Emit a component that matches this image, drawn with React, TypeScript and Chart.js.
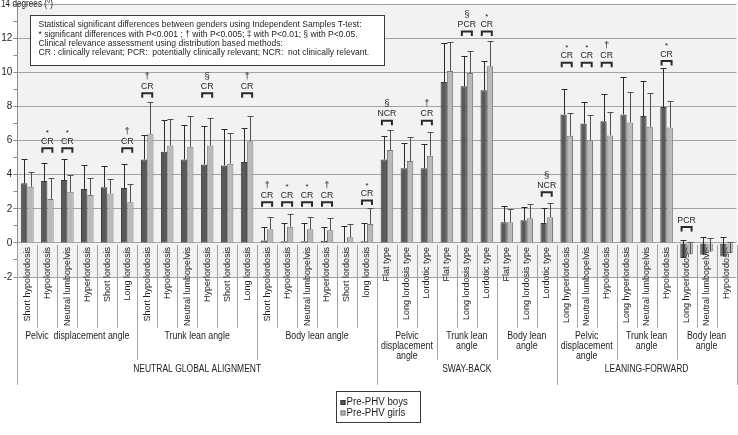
import React, { useEffect, useRef } from 'react';
import { Chart, registerables } from 'chart.js';

Chart.register(...registerables);

const FONT = '"Liberation Sans", Arial, Helvetica, sans-serif';

const categories = [
  'Short hypolordosis', 'Hypolordosis', 'Neutral lumbopelvis', 'Hyperlordosis', 'Short lordosis', 'Long lordosis',
  'Short hypolordosis', 'Hypolordosis', 'Neutral lumbopelvis', 'Hyperlordosis', 'Short lordosis', 'Long lordosis',
  'Short hypolordosis', 'Hypolordosis', 'Neutral lumbopelvis', 'Hyperlordosis', 'Short lordosis', 'long lordosis',
  'Flat type', 'Long lordosis type', 'Lordotic type',
  'Flat type', 'Long lordosis type', 'Lordotic type',
  'Flat type', 'Long lordosis type', 'Lordotic type',
  'Long hyperlordosis', 'Neutral lumbopelvis', 'Hypolordosis',
  'Long hyperlordosis', 'Neutral lumbopelvis', 'Hypolordosis',
  'Long hyperlordosis', 'Neutral lumbopelvis', 'Hypolordosis',
];

const boysMean = [
  3.49, 3.63, 3.68, 3.16, 3.26, 3.22,
  4.89, 5.34, 4.89, 4.6, 4.54, 4.74,
  0.14, 0.1, 0.1, 0.12, 0.02, 0.1,
  4.89, 4.37, 4.37,
  9.43, 9.18, 8.95,
  1.21, 1.33, 1.17,
  7.53, 7.0, 7.13,
  7.53, 7.43, 7.97,
  -0.88, -0.7, -0.8,
];
const boysSD = [
  1.4, 1.07, 1.25, 1.38, 1.22, 1.42,
  1.44, 1.87, 1.99, 2.24, 2.15, 2.0,
  0.81, 1.05, 1.09, 0.83, 0.99, 1.09,
  1.39, 1.46, 1.4,
  2.31, 1.79, 1.71,
  0.97, 0.79, 0.9,
  1.46, 1.27, 1.6,
  2.2, 2.08, 2.3,
  1.06, 1.03, 1.17,
];
const girlsMean = [
  3.29, 2.57, 3.0, 2.81, 2.9, 2.38,
  6.37, 5.71, 5.63, 5.71, 4.64, 5.96,
  0.8, 0.95, 0.8, 0.74, 0.33, 1.11,
  5.44, 4.8, 5.11,
  10.08, 9.96, 10.35,
  1.21, 1.44, 1.5,
  6.28, 6.0, 6.3,
  7.06, 6.8, 6.76,
  -0.66, -0.5, -0.6,
];
const girlsSD = [
  0.88, 1.21, 0.98, 0.99, 0.82, 1.09,
  1.86, 1.56, 1.82, 1.6, 1.79, 1.49,
  0.74, 0.73, 0.74, 0.7, 0.76, 0.92,
  1.17, 1.38, 1.38,
  1.69, 1.29, 1.48,
  0.78, 0.84, 0.82,
  1.34, 1.47, 1.38,
  1.79, 1.97, 1.58,
  0.74, 0.81, 0.68,
];

const seriesLabels = ['Pre-PHV boys', 'Pre-PHV girls'];

const subGroupLabels = [
  ['Pelvic  displacement angle'], ['Trunk lean angle'], ['Body lean angle'],
  ['Pelvic', 'displacement', 'angle'], ['Trunk lean', 'angle'], ['Body lean', 'angle'],
  ['Pelvic', 'displacement', 'angle'], ['Trunk lean', 'angle'], ['Body lean', 'angle'],
];
const subGroupCounts = [6, 6, 6, 3, 3, 3, 3, 3, 3];
const topGroupLabels = ['NEUTRAL GLOBAL ALIGNMENT', 'SWAY-BACK', 'LEANING-FORWARD'];
const topGroupCounts = [18, 9, 9];

// significance annotations (category index, symbol, relevance, bracket level in degrees)
const markCats = [1, 2, 5, 6, 9, 11, 12, 13, 14, 15, 17, 18, 20, 22, 23, 26, 27, 28, 29, 32, 33];
const markSymbols = ['*', '*', '†', '†', '§', '†', '†', '*', '*', '†', '*', '§', '†', '§', '*', '§', '*', '*', '†', '*', ''];
const markLabels = ['CR', 'CR', 'CR', 'CR', 'CR', 'CR', 'CR', 'CR', 'CR', 'CR', 'CR', 'NCR', 'CR', 'PCR', 'CR', 'NCR', 'CR', 'CR', 'CR', 'CR', 'PCR'];
const markLevels = [5.28, 5.28, 5.28, 8.5, 8.5, 8.5, 2.12, 2.12, 2.12, 2.12, 2.22, 6.9, 6.9, 12.12, 12.12, 2.71, 10.3, 10.3, 10.3, 10.4, 0.66];

const noteLines = [
  'Statistical significant differences between genders using Independent Samples T-test:',
  '* significant differences with P<0.001 ; † with P<0.005; ‡ with P<0.01; § with P<0.05.',
  'Clinical relevance assessment using distribution based methods:',
  'CR : clinically relevant; PCR:  potentially clinically relevant; NCR:  not clinically relevant.',
];

const yAxisTitle = '14 degrees (°)';

const BOYS_FILL = '#595959';
const BOYS_EDGE = '#3a3a3a';
const GIRLS_FILL = '#b9b9b9';
const GIRLS_EDGE = '#7a7a7a';
const TEXT = '#1e1e1e';
const LINE = '#a3a3a3';

function txt(ctx: CanvasRenderingContext2D, s: string, x: number, y: number, size: number, align: CanvasTextAlign = 'left', squeeze = 1) {
  ctx.font = `${size}px ${FONT}`;
  ctx.textAlign = align;
  ctx.textBaseline = 'middle';
  const w = ctx.measureText(s).width;
  ctx.fillText(s, x, y, Math.max(1, w * squeeze));
}

const backgroundPlugin = {
  id: 'bgPlot',
  beforeDraw(chart: any) {
    const { ctx, chartArea } = chart;
    ctx.save();
    ctx.fillStyle = '#ffffff';
    ctx.fillRect(0, 0, chart.width, chart.height);
    ctx.fillStyle = '#f2f2f2';
    ctx.fillRect(chartArea.left, chartArea.top, chartArea.right - chartArea.left, chartArea.bottom - chartArea.top);
    ctx.restore();
  },
};

const errorBarPlugin = {
  id: 'errorBars',
  afterDatasetsDraw(chart: any) {
    const { ctx } = chart;
    const y = chart.scales.y;
    const sds = [boysSD, girlsSD];
    const cols = ['#2a2a2a', '#505050'];
    chart.data.datasets.forEach((ds: any, di: number) => {
      const meta = chart.getDatasetMeta(di);
      ctx.save();
      ctx.strokeStyle = cols[di];
      ctx.lineWidth = 1;
      meta.data.forEach((bar: any, i: number) => {
        const v = ds.data[i];
        const x = Math.round(bar.x) + 0.5;
        const y0 = y.getPixelForValue(v);
        const y1 = Math.round(y.getPixelForValue(v + sds[di][i])) + 0.5;
        ctx.beginPath();
        ctx.moveTo(x, y0);
        ctx.lineTo(x, y1);
        ctx.moveTo(x - 3, y1);
        ctx.lineTo(x + 3, y1);
        ctx.stroke();
      });
      ctx.restore();
    });
  },
};

const decorPlugin = {
  id: 'decor',
  afterDraw(chart: any) {
    const { ctx } = chart;
    const xs = chart.scales.x;
    const ys = chart.scales.y;
    const z = ys.getPixelForValue(0);
    const step = xs.getPixelForValue(1) - xs.getPixelForValue(0);
    const edge = (i: number) => xs.getPixelForValue(0) - step / 2 + i * step;

    ctx.save();
    ctx.fillStyle = TEXT;

    // significance annotations
    markCats.forEach((c, k) => {
      const xc = xs.getPixelForValue(c);
      const b = ys.getPixelForValue(markLevels[k]);
      ctx.strokeStyle = '#2a2a2a';
      ctx.lineWidth = 2;
      ctx.beginPath();
      ctx.moveTo(xc - 5, b);
      ctx.lineTo(xc - 5, b - 4.5);
      ctx.lineTo(xc + 5, b - 4.5);
      ctx.lineTo(xc + 5, b);
      ctx.stroke();
      txt(ctx, markLabels[k], xc, b - 11.5, 9.5, 'center', 0.92);
      if (markSymbols[k]) {
        const s = markSymbols[k];
        txt(ctx, s, xc, b - (s === '*' ? 19.5 : 21.5), s === '*' ? 8 : 9.5, 'center');
      }
    });

    // category separators & group lines
    ctx.strokeStyle = LINE;
    ctx.lineWidth = 1;
    const subEdges = new Set<number>();
    const topEdges = new Set<number>();
    let acc = 0;
    subEdges.add(0);
    subGroupCounts.forEach((n) => { acc += n; subEdges.add(acc); });
    acc = 0;
    topEdges.add(0);
    topGroupCounts.forEach((n) => { acc += n; topEdges.add(acc); });
    for (let i = 0; i <= categories.length; i++) {
      const x = Math.round(edge(i)) + 0.5;
      const len = topEdges.has(i) ? 142 : subEdges.has(i) ? 117 : 85;
      ctx.beginPath();
      ctx.moveTo(x, z + 2);
      ctx.lineTo(x, z + len);
      ctx.stroke();
    }

    // sub group labels
    let start = 0;
    subGroupLabels.forEach((lines, g) => {
      const n = subGroupCounts[g];
      const xc = (edge(start) + edge(start + n)) / 2;
      lines.forEach((l, li) => txt(ctx, l, xc, z + 93.5 + li * 10, 10, 'center', 0.88));
      start += n;
    });
    start = 0;
    topGroupLabels.forEach((l, g) => {
      const n = topGroupCounts[g];
      const xc = (edge(start) + edge(start + n)) / 2;
      txt(ctx, l, xc, z + 126, 10, 'center', 0.85);
      start += n;
    });

    // y axis title
    txt(ctx, yAxisTitle, 1, 4.5, 10, 'left', 0.82);

    // note box
    ctx.fillStyle = '#ffffff';
    ctx.fillRect(30.5, 15.5, 354, 50);
    ctx.strokeStyle = '#3a3a3a';
    ctx.lineWidth = 1;
    ctx.strokeRect(30.5, 15.5, 354, 50);
    ctx.fillStyle = TEXT;
    ctx.font = `9.5px ${FONT}`;
    const squeeze = 323 / ctx.measureText(noteLines[0]).width;
    noteLines.forEach((l, i) => txt(ctx, l, 38.5, 24.8 + i * 9.1, 9.5, 'left', squeeze));

    // legend
    const lx = 336.5, ly = 391.5, lw = 84, lh = 31;
    ctx.fillStyle = '#ffffff';
    ctx.fillRect(lx, ly, lw, lh);
    ctx.strokeStyle = '#3a3a3a';
    ctx.strokeRect(lx, ly, lw, lh);
    chart.data.datasets.forEach((ds: any, i: number) => {
      const yy = ly + 11 + i * 10.5;
      ctx.fillStyle = ds.backgroundColor;
      ctx.fillRect(lx + 4, yy - 2.5, 5, 5);
      ctx.strokeStyle = ds.borderColor;
      ctx.strokeRect(lx + 4.5, yy - 2, 4, 4);
      ctx.fillStyle = TEXT;
      txt(ctx, ds.label, lx + 10, yy, 10, 'left', 0.97);
    });

    ctx.restore();
  },
};

export default function App() {
  const ref = useRef<HTMLCanvasElement | null>(null);

  useEffect(() => {
    document.body.style.margin = '0';
    const canvas = ref.current;
    if (!canvas) return;
    const chart = new Chart(canvas, {
      type: 'bar',
      data: {
        labels: categories,
        datasets: [
          {
            label: seriesLabels[0],
            data: boysMean,
            backgroundColor: BOYS_FILL,
            borderColor: BOYS_EDGE,
            borderWidth: 1,
            categoryPercentage: 0.63,
            barPercentage: 1,
          },
          {
            label: seriesLabels[1],
            data: girlsMean,
            backgroundColor: GIRLS_FILL,
            borderColor: GIRLS_EDGE,
            borderWidth: 1,
            categoryPercentage: 0.63,
            barPercentage: 1,
          },
        ],
      },
      options: {
        animation: false,
        responsive: true,
        maintainAspectRatio: false,
        devicePixelRatio: 1,
        events: [],
        layout: { padding: { top: 4, right: 1.5, bottom: 158, left: 0 } },
        plugins: {
          legend: { display: false },
          tooltip: { enabled: false },
          title: { display: false },
        },
        scales: {
          x: {
            position: { y: 0 } as any,
            grid: { display: false, drawTicks: false },
            border: { display: false },
            ticks: {
              autoSkip: false,
              maxRotation: 90,
              minRotation: 90,
              padding: 4,
              color: TEXT,
              font: { size: 9, family: FONT },
            },
            afterFit(scale: any) {
              scale.paddingLeft = 0;
              scale.paddingRight = 0;
            },
          },
          y: {
            min: -2,
            max: 14,
            grid: {
              color: (c: any) => (c.tick && c.tick.value % 2 === 0 ? LINE : 'rgba(0,0,0,0)'),
              tickColor: '#8a8a8a',
              tickLength: 4,
            },
            border: { display: true, color: '#8a8a8a' },
            ticks: {
              stepSize: 1,
              padding: 1,
              color: TEXT,
              font: { size: 10, family: FONT },
              callback: (v: any) => (Number(v) % 2 === 0 && Number(v) !== 14 ? String(v) : ''),
            },
            afterFit(scale: any) {
              scale.width = 17.4;
              scale.paddingTop = 0;
              scale.paddingBottom = 0;
            },
          },
        },
      },
      plugins: [backgroundPlugin, errorBarPlugin, decorPlugin],
    });
    return () => chart.destroy();
  }, []);

  return (
    <div style={{ position: 'fixed', left: 0, top: 0, width: 738, height: 435 }}>
      <canvas ref={ref} />
    </div>
  );
}
